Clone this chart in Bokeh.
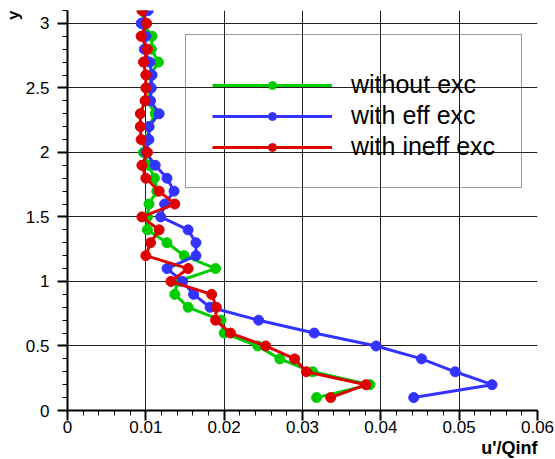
from bokeh.plotting import figure
from bokeh.models import FixedTicker, Legend, LegendItem, Title, Range1d
from bokeh.embed import file_html
from bokeh.resources import INLINE

# ---- data ----
y_pos = [3.1, 3.0, 2.9, 2.8, 2.7, 2.6, 2.5, 2.4, 2.3, 2.2, 2.1, 2.0, 1.9, 1.8, 1.7, 1.6,
         1.5, 1.4, 1.3, 1.2, 1.1, 1.0, 0.9, 0.8, 0.7, 0.6, 0.5, 0.4, 0.3, 0.2, 0.1]

without_exc = [0.0096, 0.0096, 0.0108, 0.0107, 0.0116, 0.0106, 0.0106, 0.0102, 0.0112, 0.0104,
               0.0102, 0.0097, 0.0104, 0.0111, 0.0114, 0.0104, 0.0102, 0.0102, 0.0127, 0.0149,
               0.0189, 0.0140, 0.0137, 0.0154, 0.0196, 0.0200, 0.0243, 0.0271, 0.0313, 0.0386,
               0.0318]

with_eff_exc = [0.0103, 0.0094, 0.0100, 0.0098, 0.0105, 0.0108, 0.0107, 0.0106, 0.0117, 0.0104,
                0.0104, 0.0100, 0.0112, 0.0127, 0.0136, 0.0124, 0.0119, 0.0154, 0.0164, 0.0164,
                0.0127, 0.0147, 0.0161, 0.0182, 0.0244, 0.0315, 0.0394, 0.0452, 0.0495, 0.0542,
                0.0442]

with_ineff_exc = [0.0095, 0.0101, 0.0094, 0.0102, 0.0097, 0.0100, 0.0100, 0.0099, 0.0093, 0.0093,
                  0.0094, 0.0102, 0.0095, 0.0100, 0.0117, 0.0137, 0.0095, 0.0117, 0.0106, 0.0100,
                  0.0154, 0.0132, 0.0184, 0.0190, 0.0189, 0.0208, 0.0253, 0.0290, 0.0305, 0.0381,
                  0.0336]

series_names = ["without exc", "with eff exc", "with ineff exc"]
series_colors = ["#00cc00", "#3333ff", "#dd0000"]

x_ticks = [0, 0.01, 0.02, 0.03, 0.04, 0.05, 0.06]
x_tick_labels = ["0", "0.01", "0.02", "0.03", "0.04", "0.05", "0.06"]
y_ticks = [0, 0.5, 1, 1.5, 2, 2.5, 3]
y_tick_labels = ["0", "0.5", "1", "1.5", "2", "2.5", "3"]
x_minor = [i * 0.002 for i in range(31)]
y_minor = [i * 0.1 for i in range(32)]

FONT = "Liberation Sans"

p = figure(width=555, height=459, x_range=Range1d(0, 0.06), y_range=Range1d(0, 3.1),
           output_backend="svg", toolbar_location=None,
           min_border_left=67, min_border_right=18, min_border_top=10, min_border_bottom=49)
p.outline_line_color = None
p.background_fill_color = "white"
p.border_fill_color = "white"

# axes
p.xaxis.ticker = FixedTicker(ticks=x_ticks, minor_ticks=x_minor)
p.yaxis.ticker = FixedTicker(ticks=y_ticks, minor_ticks=y_minor)
p.xaxis.major_label_overrides = {t: l for t, l in zip(x_ticks, x_tick_labels)}
p.yaxis.major_label_overrides = {t: l for t, l in zip(y_ticks, y_tick_labels)}
for ax in (p.xaxis[0], p.yaxis[0]):
    ax.axis_line_color = "black"
    ax.axis_line_width = 2
    ax.major_tick_line_color = "black"
    ax.major_tick_line_width = 2
    ax.major_tick_out = 10
    ax.major_tick_in = 0
    ax.minor_tick_line_color = "black"
    ax.minor_tick_line_width = 1
    ax.minor_tick_out = 5
    ax.minor_tick_in = 0
    ax.major_label_text_font = FONT
    ax.major_label_text_font_size = "17px"
    ax.major_label_text_color = "black"
p.xaxis.major_label_standoff = 0
p.yaxis.major_label_standoff = 8

p.xgrid.ticker = FixedTicker(ticks=x_ticks)
p.ygrid.ticker = FixedTicker(ticks=y_ticks)
p.grid.grid_line_color = "#222222"
p.grid.grid_line_width = 1

# axis titles
p.add_layout(Title(text="y", align="right", text_font=FONT, text_font_size="17px",
                   text_font_style="bold", text_color="black", standoff=0), "left")
p.add_layout(Title(text="u'/Qinf", align="right", text_font=FONT, text_font_size="18px",
                   text_font_style="bold", text_color="black", standoff=0), "below")

# series
items = []
for name, color, vals in zip(series_names, series_colors,
                             [without_exc, with_eff_exc, with_ineff_exc]):
    ln = p.line(vals, y_pos, line_color=color, line_width=3)
    sc = p.scatter(vals, y_pos, size=10, fill_color=color, line_color=color)
    items.append(LegendItem(label=name, renderers=[ln, sc]))

legend = Legend(items=items, location=(118, 222), orientation="vertical",
                title=" ", title_text_font_size="8px", title_standoff=0,
                glyph_width=120, glyph_height=20, label_height=28, spacing=2,
                label_standoff=19, padding=26, margin=0,
                label_text_font=FONT, label_text_font_size="25px", label_text_color="black",
                background_fill_alpha=0, border_line_color="#333333", border_line_width=1)
p.add_layout(legend, "center")

open("out.html", "w").write(file_html(p, INLINE))
